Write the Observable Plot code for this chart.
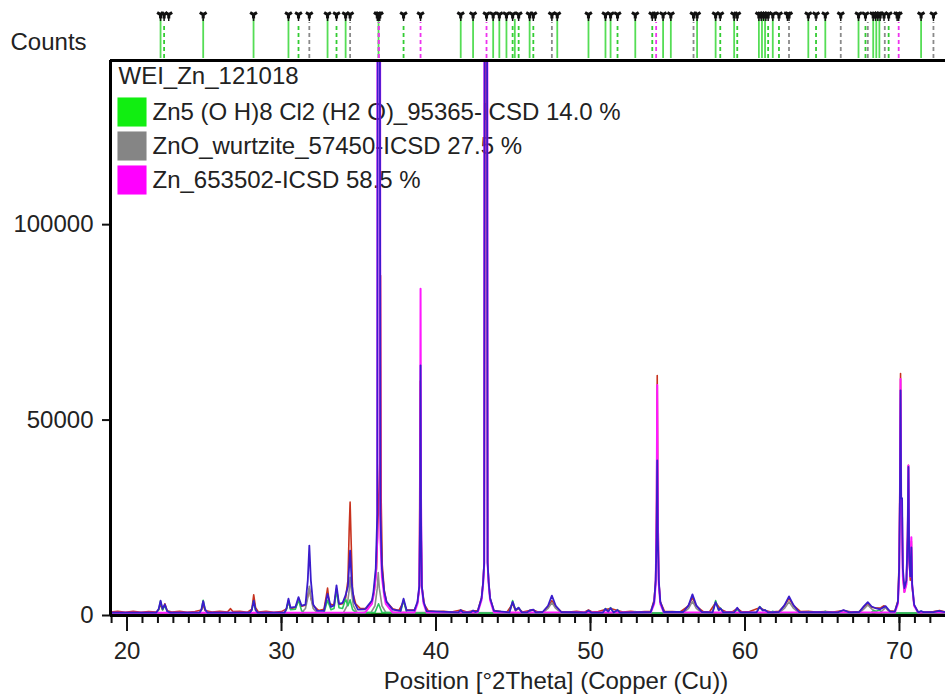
<!DOCTYPE html>
<html><head><meta charset="utf-8">
<script src="https://cdn.jsdelivr.net/npm/d3@7"></script>
<script src="https://cdn.jsdelivr.net/npm/@observablehq/plot@0.6"></script>
<style>
html,body{margin:0;padding:0;background:#fff;overflow:hidden}
#chart svg{display:block}
</style></head><body><div id="chart"></div>
<script>
const xDomain = [18.93, 72.98];
const yDomain = [0, 142000];
const xTicks = [20, 30, 40, 50, 60, 70];
const yTicks = [0, 50000, 100000];
const xLabel = "Position [°2Theta] (Copper (Cu))";
const yLabel = "Counts";
const scanName = "WEI_Zn_121018";
const phaseLabels = ["Zn5 (O H)8 Cl2 (H2 O)_95365-ICSD 14.0 %", "ZnO_wurtzite_57450-ICSD 27.5 %", "Zn_653502-ICSD 58.5 %"];
const phaseColors = ["#11ee11", "#858585", "#ff00ff"];

// reference pattern sticks (°2θ)
const peakMarks = [22.17,22.4,22.7,24.93,28.19,30.45,31.1,31.8,32.98,33.56,34.15,34.44,36.2,36.28,36.36,37.9,39.0,41.6,42.4,43.27,43.7,44.1,44.56,44.96,45.35,46.06,46.3,47.5,47.85,49.87,50.97,51.3,51.75,52.9,54.0,54.2,54.7,55.2,56.67,56.9,58.1,58.4,59.3,59.5,60.9,61.05,61.2,61.35,61.5,61.8,62.2,62.75,62.85,64.1,64.6,65.2,66.2,67.35,67.8,68.3,68.45,68.6,68.75,69.0,69.3,69.85,69.95,71.4,72.2];
const zn5Sticks = [22.17,24.93,28.19,30.45,32.98,34.15,36.28,41.6,42.4,43.7,44.1,44.56,45.1,46.06,47.85,49.87,50.97,51.3,52.9,54.7,55.2,56.9,58.1,59.3,60.9,61.1,61.3,61.8,64.1,65.2,67.35,68.3,68.5,68.7,71.4];
const zn5Dashed = [22.4,31.1,33.56,37.9,44.96,45.35,46.3,51.75,54.0,58.4,59.5,61.5,62.2,64.6,67.8,69.3];
const znoSticks = [31.8,34.44,36.28,47.5,56.67,62.85,66.2,67.95,69.05,72.2];
const znSticks = [36.3,39.0,43.27,54.25,69.95];

// scan profiles [°2θ, counts]
const background = [[18.93,300],[40,320],[72.98,280]];
const observed = [[18.93,900],[19.4,1100],[19.9,800],[20.4,1050],[20.9,850],[21.4,1000],[21.9,900],[22.05,1500],[22.17,2900],[22.3,1500],[22.45,3000],[22.6,1200],[22.9,900],[23.4,1100],[23.9,850],[24.4,1000],[24.82,1400],[24.93,2800],[25.05,1300],[25.5,900],[26.0,1100],[26.5,900],[26.7,1750],[26.85,1000],[27.3,1100],[27.8,850],[28.08,1600],[28.2,5300],[28.32,2000],[28.5,900],[29.0,1100],[29.5,850],[30.0,1000],[30.32,1700],[30.45,3500],[30.58,1800],[30.9,2000],[31.1,3800],[31.3,2400],[31.55,2600],[31.7,5000],[31.8,6900],[31.9,4500],[32.05,2500],[32.4,1300],[32.75,1600],[32.9,5000],[32.98,7000],[33.1,3000],[33.4,2600],[33.56,6800],[33.72,2800],[33.95,3000],[34.15,4500],[34.3,9000],[34.38,22000],[34.44,29000],[34.5,20000],[34.6,6000],[34.8,3000],[35.1,1800],[35.5,1800],[35.85,3500],[36.0,6000],[36.15,12000],[36.37,40000],[36.41,87000],[36.45,30000],[36.52,13000],[36.65,6500],[36.8,3500],[37.2,1700],[37.6,1300],[37.9,3500],[38.1,1400],[38.6,1400],[38.8,3200],[38.92,7000],[38.98,60000],[39.04,20000],[39.1,7000],[39.25,2800],[39.5,1200],[40.0,1000],[40.5,1100],[41.0,900],[41.6,1400],[42.0,900],[42.4,1200],[42.7,1200],[42.95,4600],[43.05,8600],[43.12,14000],[43.2,200000],[43.26,200000],[43.34,14000],[43.41,8600],[43.5,4400],[43.75,1300],[44.2,1000],[44.6,900],[44.96,3000],[45.15,1200],[45.35,1800],[45.6,900],[46.06,1300],[46.3,1400],[46.6,900],[47.0,1000],[47.3,2500],[47.5,3800],[47.75,2300],[48.1,1000],[48.6,900],[49.1,1100],[49.6,850],[49.87,1400],[50.1,900],[50.5,1000],[50.97,1500],[51.3,1800],[51.75,1300],[52.1,900],[52.6,1100],[53.1,900],[53.5,1000],[53.9,1000],[54.12,4000],[54.22,9000],[54.28,30000],[54.32,61400],[54.36,30000],[54.42,9000],[54.52,3500],[54.8,1000],[55.3,1000],[55.8,900],[56.3,2300],[56.6,4600],[56.85,2400],[57.3,1000],[57.7,900],[58.1,3300],[58.42,1600],[58.8,900],[59.2,1000],[59.5,1800],[59.8,900],[60.3,1000],[60.95,2000],[61.3,1300],[61.7,900],[62.2,1100],[62.55,2500],[62.85,4400],[63.15,2500],[63.6,1000],[64.1,1100],[64.6,900],[65.2,1000],[65.7,900],[66.38,1300],[66.9,900],[67.4,1000],[67.7,2200],[67.95,3000],[68.2,2100],[68.5,1900],[68.8,2000],[69.0,2500],[69.3,1200],[69.7,1100],[69.9,3800],[69.98,14000],[70.03,35000],[70.07,61900],[70.11,30000],[70.17,22000],[70.22,10000],[70.32,6000],[70.45,8500],[70.53,21000],[70.58,38400],[70.63,14000],[70.7,9000],[70.77,19000],[70.82,7500],[70.95,2600],[71.2,1000],[71.7,900],[72.2,1000],[72.6,1300],[72.98,900]];
const calculated = [[18.93,750],[21.9,750],[22.05,1700],[22.17,3800],[22.3,1700],[22.45,2800],[22.6,1100],[22.8,750],[24.7,750],[24.82,1600],[24.93,3700],[25.05,1600],[25.2,750],[27.95,750],[28.08,1500],[28.2,3800],[28.32,1500],[28.45,750],[30.2,750],[30.32,1800],[30.45,4300],[30.58,2000],[30.9,2200],[31.1,4700],[31.3,2500],[31.55,2800],[31.7,9000],[31.8,17900],[31.9,9000],[32.05,2800],[32.3,1200],[32.75,1200],[32.98,5500],[33.2,2200],[33.4,2600],[33.56,7700],[33.72,3000],[33.95,3200],[34.15,5200],[34.3,7500],[34.44,16600],[34.55,8000],[34.7,3500],[34.95,1500],[35.4,1600],[35.85,3800],[35.95,6000],[36.1,12000],[36.2,26000],[36.25,250000],[36.34,250000],[36.4,26000],[36.5,12000],[36.65,6000],[36.8,3500],[37.2,1500],[37.7,1200],[37.9,4300],[38.1,1300],[38.6,1300],[38.8,3500],[38.92,7600],[38.97,25000],[39.0,64000],[39.03,25000],[39.08,7600],[39.2,3500],[39.4,1100],[41.45,800],[41.6,1400],[41.75,800],[42.25,800],[42.4,1300],[42.55,900],[42.7,1100],[42.95,4500],[43.05,8500],[43.12,13500],[43.18,300000],[43.27,300000],[43.34,13500],[43.41,8500],[43.5,4500],[43.75,1200],[44.75,800],[44.96,3500],[45.15,1400],[45.35,2000],[45.55,800],[45.9,800],[46.06,1300],[46.3,1500],[46.45,800],[46.9,900],[47.25,2500],[47.5,5100],[47.75,2500],[48.1,900],[49.7,750],[49.87,1300],[50.05,750],[50.8,750],[50.97,1700],[51.15,1000],[51.3,1900],[51.5,750],[51.75,1400],[51.9,750],[53.9,900],[54.12,3500],[54.22,9000],[54.28,20000],[54.32,39700],[54.36,20000],[54.42,9000],[54.52,3500],[54.75,900],[56.0,900],[56.35,2600],[56.6,5400],[56.85,2600],[57.2,900],[57.9,800],[58.1,3400],[58.3,1400],[58.42,1800],[58.6,800],[59.3,800],[59.5,2000],[59.7,800],[60.75,800],[60.95,2200],[61.15,1300],[61.3,1400],[61.5,800],[62.2,900],[62.55,2600],[62.85,4900],[63.15,2600],[63.5,900],[66.0,800],[66.38,1400],[66.75,800],[67.4,900],[67.7,2400],[67.95,3400],[68.2,2300],[68.5,1800],[68.75,1600],[69.1,2400],[69.4,1000],[69.7,1000],[69.9,3500],[69.98,12000],[70.03,30000],[70.07,57600],[70.11,30000],[70.17,30000],[70.22,12000],[70.32,7000],[70.45,9000],[70.53,20000],[70.58,38000],[70.63,15000],[70.7,10000],[70.77,17400],[70.82,8000],[70.95,2800],[71.2,900],[71.25,850],[71.4,1100],[71.55,850],[72.2,850],[72.55,1200],[72.98,850]];
const phaseZn5 = [[18.93,650],[21.9,650],[22.05,1500],[22.17,3700],[22.3,1400],[22.45,2600],[22.6,1000],[22.8,650],[24.7,650],[24.82,1500],[24.93,3900],[25.05,1500],[25.2,650],[27.95,650],[28.08,1400],[28.2,3700],[28.32,1400],[28.45,650],[30.2,650],[30.32,1500],[30.45,3900],[30.58,1500],[30.9,1600],[31.1,4000],[31.3,1200],[31.5,650],[32.75,700],[32.98,3900],[33.2,1500],[33.4,1800],[33.56,6500],[33.72,2000],[33.95,1800],[34.15,4200],[34.3,2500],[34.44,4000],[34.6,1500],[34.85,700],[36.05,800],[36.28,3000],[36.5,800],[37.7,700],[37.9,4000],[38.1,700],[41.45,650],[41.6,1300],[41.75,650],[42.25,650],[42.4,1200],[42.55,650],[44.75,650],[44.96,3800],[45.15,1300],[45.35,2000],[45.55,650],[45.9,650],[46.06,1200],[46.2,650],[49.7,650],[49.87,1200],[50.05,650],[50.8,650],[50.97,1800],[51.15,900],[51.3,2000],[51.5,650],[51.6,650],[51.75,1500],[51.9,650],[52.75,650],[52.9,1000],[53.05,650],[57.9,650],[58.1,3800],[58.3,1300],[58.42,1900],[58.6,650],[59.3,650],[59.5,1600],[59.7,650],[60.75,650],[60.95,2300],[61.15,1300],[61.3,1400],[61.5,650],[61.65,650],[61.8,1100],[61.95,650],[64.0,650],[64.1,1000],[64.25,650],[65.05,650],[65.2,1100],[65.35,650],[67.2,650],[67.35,1000],[67.5,650],[68.15,650],[68.35,1300],[68.5,1100],[68.7,1400],[68.9,650],[71.25,650],[71.4,1100],[71.55,650],[72.98,650]];
const phaseZnO = [[18.93,650],[31.3,700],[31.55,1800],[31.7,4500],[31.8,7500],[31.9,4500],[32.05,1800],[32.3,700],[34.0,700],[34.25,2500],[34.38,6500],[34.44,9800],[34.52,6500],[34.65,2500],[34.9,700],[35.8,800],[36.05,2500],[36.2,7000],[36.26,11000],[36.33,7000],[36.5,2500],[36.75,800],[46.9,700],[47.25,1800],[47.5,3300],[47.75,1800],[48.1,700],[56.0,700],[56.35,1800],[56.6,3600],[56.85,1800],[57.2,700],[62.2,700],[62.55,1800],[62.85,3500],[63.15,1800],[63.5,700],[66.0,700],[66.38,1300],[66.75,700],[67.4,700],[67.7,1700],[67.95,2700],[68.2,1700],[68.5,700],[68.75,700],[69.1,2000],[69.4,700],[72.2,700],[72.55,1100],[72.9,700],[72.98,700]];
const phaseZn = [[18.93,700],[35.4,750],[35.85,3000],[35.95,5000],[36.1,9800],[36.2,20000],[36.22,250000],[36.37,250000],[36.4,20000],[36.5,9800],[36.65,5000],[36.75,3000],[37.2,750],[38.6,750],[38.8,3000],[38.92,7200],[38.97,30000],[39.0,83600],[39.03,30000],[39.08,7200],[39.2,3000],[39.4,750],[42.7,750],[42.95,4000],[43.05,8000],[43.12,13200],[43.15,300000],[43.3,300000],[43.34,13200],[43.41,8000],[43.5,4000],[43.75,750],[53.9,750],[54.12,3000],[54.22,8000],[54.28,25000],[54.32,59000],[54.36,25000],[54.42,8000],[54.52,3000],[54.75,750],[69.7,750],[69.9,3000],[69.98,10000],[70.03,30000],[70.07,60500],[70.11,30000],[70.17,25000],[70.22,10000],[70.32,6000],[70.45,8000],[70.53,20000],[70.58,38400],[70.63,15000],[70.7,10000],[70.77,20000],[70.82,8000],[70.95,2500],[71.2,750],[72.98,750]];

const FONT = "'Liberation Sans', Arial, sans-serif";
const TXT = "#222";
const FS = 24;
const px = d => d[0], py = d => d[1];

const strip = Plot.plot({
  width: 945, height: 58,
  marginLeft: 110, marginRight: 0, marginTop: 0, marginBottom: 0,
  x: {domain: xDomain, axis: null},
  y: {domain: [0, 58], axis: null},
  style: {fontFamily: FONT, background: "white"},
  marks: [
    Plot.text([yLabel], {text: d => d, frameAnchor: "bottom-left", dx: -100, dy: -16, textAnchor: "start", lineAnchor: "middle", fontSize: FS, fill: TXT}),
    Plot.ruleX(zn5Sticks, {x: d => d, y1: 0, y2: 39, stroke: "#55dd55", strokeWidth: 1.8}),
    Plot.ruleX(zn5Dashed, {x: d => d, y1: 0, y2: 33, stroke: "#33cc33", strokeWidth: 1.8, strokeDasharray: "4,3"}),
    Plot.ruleX(znoSticks, {x: d => d, y1: 0, y2: 36, stroke: "#8a8a8a", strokeWidth: 1.8, strokeDasharray: "4,3"}),
    Plot.ruleX(znSticks, {x: d => d, y1: 0, y2: 36, stroke: "#ee33ee", strokeWidth: 1.8, strokeDasharray: "4,3"}),
    Plot.ruleX(peakMarks, {x: d => d, y1: 37, y2: 43, stroke: "#111", strokeWidth: 1.5}),
    Plot.dot(peakMarks, {x: d => d, y: 44, symbol: "wye", r: 3.2, fill: "#111", stroke: "none"})
  ]
});

const legendMarks = [
  Plot.text([scanName], {text: d => d, frameAnchor: "top-left", dx: 8, dy: 16, textAnchor: "start", lineAnchor: "middle", fontSize: FS, fill: TXT})
];
phaseLabels.forEach((lab, i) => {
  legendMarks.push(Plot.dot([lab], {frameAnchor: "top-left", dx: 21.5, dy: 51.5 + 34 * i, symbol: "square", r: 16.4, fill: phaseColors[i], stroke: "none"}));
  legendMarks.push(Plot.text([lab], {text: d => d, frameAnchor: "top-left", dx: 42, dy: 51.5 + 34 * i, textAnchor: "start", lineAnchor: "middle", fontSize: FS, fill: TXT}));
});

const main = Plot.plot({
  width: 945, height: 637,
  marginLeft: 110, marginRight: 0, marginTop: 2, marginBottom: 80,
  x: {domain: xDomain},
  y: {domain: yDomain},
  style: {fontFamily: FONT, fontSize: FS + "px", background: "white", color: TXT},
  marks: [
    ...legendMarks,
    Plot.line(background, {x: px, y: py, stroke: "#127a12", strokeWidth: 3, clip: true}),
    Plot.line(observed, {x: px, y: py, stroke: "#c8321e", strokeWidth: 1.6, clip: true}),
    Plot.line(phaseZnO, {x: px, y: py, stroke: "#8c8c8c", strokeWidth: 1.6, clip: true}),
    Plot.line(phaseZn5, {x: px, y: py, stroke: "#2ac85a", strokeWidth: 1.6, clip: true}),
    Plot.line(phaseZn, {x: px, y: py, stroke: "#ff19ff", strokeWidth: 2, clip: true}),
    Plot.line(calculated, {x: px, y: py, stroke: "#3a1ccc", strokeWidth: 1.8, clip: true}),
    Plot.axisX({ticks: d3.range(19, 73), tickSize: 8, tickFormat: () => "", label: null, strokeWidth: 2, stroke: "#111"}),
    Plot.axisX({ticks: xTicks, tickSize: 16, tickPadding: 10, tickFormat: "d", label: null, fontSize: FS, strokeWidth: 2, stroke: "#111", fill: TXT}),
    Plot.axisY({ticks: yTicks, tickSize: 8, tickPadding: 9, tickFormat: "d", label: null, fontSize: FS, strokeWidth: 2, stroke: "#111", fill: TXT}),
    Plot.ruleX([xDomain[0]], {stroke: "#000", strokeWidth: 3}),
    Plot.ruleY([yDomain[0]], {stroke: "#000", strokeWidth: 3}),
    Plot.ruleY([yDomain[1]], {stroke: "#000", strokeWidth: 3}),
    Plot.text([xLabel], {text: d => d, frameAnchor: "bottom", dx: 28, dy: 73, lineAnchor: "bottom", fontSize: FS, fill: TXT})
  ]
});

const root = document.getElementById("chart");
root.appendChild(strip);
root.appendChild(main);
</script>
</body></html>
